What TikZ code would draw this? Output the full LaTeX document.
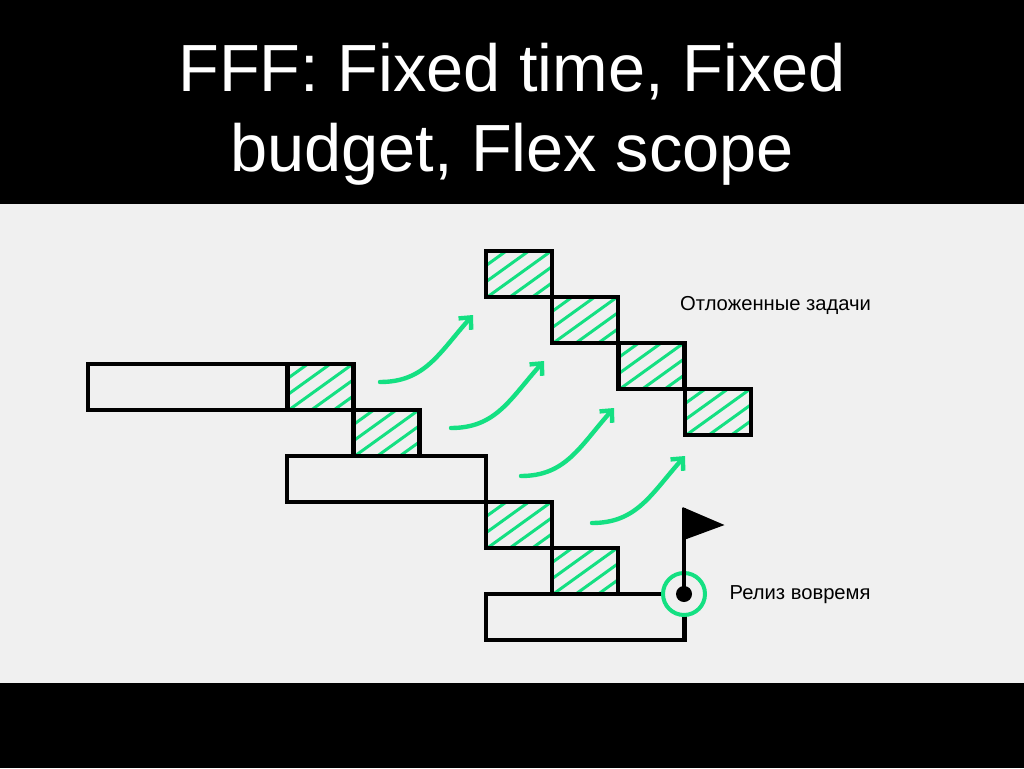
\documentclass[tikz,border=0pt]{standalone}
\usepackage{fontspec}
\setmainfont{Liberation Sans}
\usetikzlibrary{arrows.meta}
\definecolor{bgpanel}{HTML}{F0F0F0}
\definecolor{mint}{HTML}{14E082}
\tikzset{
  x=1pt,y=-1pt,
  plainbox/.style={draw=black,line width=4.7pt,inner sep=0pt,outer sep=0pt,anchor=north west},
  hatchbox/.style={plainbox,minimum width=66pt,minimum height=46pt,
    path picture={
      \foreach \k in {-3,...,4}{
        \draw[mint,line width=3pt]
          ([xshift=\k*22.5pt-30.6pt,yshift=-23pt]path picture bounding box.south west)++(0,0) -- ++(120pt,86.4pt);
      }
    }},
  flow/.style={draw=mint,line width=4.4pt,line cap=round,-{Straight Barb[length=9pt,width=17pt,line width=4.4pt]}},
  lbl/.style={font=\fontsize{20.2}{24}\selectfont,text=black,inner sep=0pt},
  titletext/.style={font=\fontsize{66.7}{80}\selectfont,text=white,align=center,inner sep=0pt}
}
\begin{document}
\begin{tikzpicture}
\useasboundingbox (0,0) rectangle (1024,768);
\fill[black] (0,0) rectangle (1024,768);
\fill[bgpanel] (0,204) rectangle (1024,683);
\node[titletext] (title) at (512,114) {FFF: Fixed time, Fixed\\budget, Flex scope};

\node[plainbox,minimum width=199pt,minimum height=46pt] (p1) at (88,364) {};
\node[plainbox,minimum width=199pt,minimum height=46pt] (p2) at (287,456) {};
\node[plainbox,minimum width=198.5pt,minimum height=46pt] (p3) at (486,594) {};

\node[hatchbox] (a1) at (287.5,364) {};
\node[hatchbox] (a2) at (353.5,410) {};
\node[hatchbox] (a3) at (486,502) {};
\node[hatchbox] (a4) at (552,548) {};
\node[hatchbox] (b1) at (486,251) {};
\node[hatchbox] (b2) at (552,297) {};
\node[hatchbox] (b3) at (618.5,343) {};
\node[hatchbox] (b4) at (685,389) {};

\coordinate (s1) at (380,382); \coordinate (e1) at (473,315);
\coordinate (s2) at (451,428); \coordinate (e2) at (544,361);
\coordinate (s3) at (521,476); \coordinate (e3) at (614,408);
\coordinate (s4) at (592,523); \coordinate (e4) at (685,456);
\draw[flow] (s1) .. controls +(45,0) and +(-34,38) .. (e1);
\draw[flow] (s2) .. controls +(45,0) and +(-34,38) .. (e2);
\draw[flow] (s3) .. controls +(45,0) and +(-34,38) .. (e3);
\draw[flow] (s4) .. controls +(45,0) and +(-34,38) .. (e4);

\node[circle,draw=mint,fill=bgpanel,line width=4pt,minimum size=42pt,inner sep=0pt] (ring) at (684,594) {};
\node[circle,fill=black,minimum size=16pt,inner sep=0pt] (dot) at (684,594) {};
\coordinate (top) at (684,508);
\draw[black,line width=3.6pt] (dot.center) -- (top);
\fill[black] (682.5,507) -- (724.5,525) -- (682.5,540.5) -- cycle;

\node[lbl,anchor=west] (t1) at (680,305) {Отложенные задачи};
\node[lbl,anchor=west] (t2) at (729.5,595) {Релиз вовремя};
\end{tikzpicture}
\end{document}
